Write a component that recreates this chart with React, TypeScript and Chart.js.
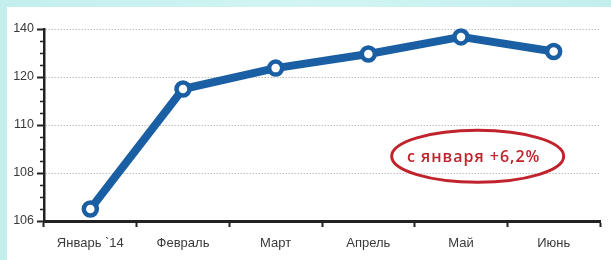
import React, { useEffect, useRef } from "react";
import { Chart, registerables } from "chart.js";

Chart.register(...registerables);

const months = ["Январь `14", "Февраль", "Март", "Апрель", "Май", "Июнь"];
const values = [106.5, 117.5, 123.7, 129.6, 136.7, 130.6];
const yTickLabels = [106, 108, 110, 120, 140];
const annotationText = "с января +6,2%";
const annotationX = 4.18; // category position
const annotationY = 108.7; // value position

const BLUE = "#1a5fa3";
const RED = "#c1232c";
const FONT = "'Liberation Sans', Arial, sans-serif";

// The value axis has evenly spaced, non-linear labels: map a value onto it.
function toAxis(v: number): number {
  for (let i = 0; i < yTickLabels.length - 1; i++) {
    const a = yTickLabels[i];
    const b = yTickLabels[i + 1];
    if (v <= b) return i + (v - a) / (b - a);
  }
  return yTickLabels.length - 1;
}

const minorTicksPlugin = {
  id: "minorTicks",
  afterDraw(chart: any) {
    const y = chart.scales.y;
    const ctx = chart.ctx;
    const x0 = chart.chartArea.left;
    ctx.save();
    ctx.strokeStyle = "#222";
    ctx.lineWidth = 1.5;
    for (let i = 0; i < yTickLabels.length - 1; i++) {
      for (let k = 1; k < 4; k++) {
        const py = Math.round(y.getPixelForValue(i + k / 4)) + 0.5;
        ctx.beginPath();
        ctx.moveTo(x0 - 4, py);
        ctx.lineTo(x0, py);
        ctx.stroke();
      }
    }
    ctx.restore();
  },
};

const annotationPlugin = {
  id: "ellipseNote",
  afterDatasetsDraw(chart: any) {
    const ctx = chart.ctx;
    const cx = chart.scales.x.getPixelForValue(annotationX);
    const cy = chart.scales.y.getPixelForValue(toAxis(annotationY));
    ctx.save();
    ctx.beginPath();
    ctx.ellipse(cx, cy, 86, 26, 0, 0, Math.PI * 2);
    ctx.strokeStyle = RED;
    ctx.lineWidth = 3;
    ctx.stroke();
    ctx.fillStyle = RED;
    ctx.font = `600 16px 'Open Sans', 'Liberation Sans', sans-serif`;
    (ctx as any).letterSpacing = "1px";
    ctx.textAlign = "center";
    ctx.textBaseline = "middle";
    ctx.fillText(annotationText, cx - 4, cy + 1);
    ctx.restore();
  },
};

export default function App() {
  const ref = useRef<HTMLCanvasElement | null>(null);

  useEffect(() => {
    if (!ref.current) return;
    const chart = new Chart(ref.current, {
      type: "line",
      data: {
        labels: months,
        datasets: [
          {
            data: values.map(toAxis),
            borderColor: BLUE,
            borderWidth: 8,
            pointRadius: 6.5,
            pointBorderWidth: 4.5,
            pointBackgroundColor: "#ffffff",
            pointBorderColor: BLUE,
            tension: 0,
            borderCapStyle: "round",
            borderJoinStyle: "round",
            clip: false,
          } as any,
        ],
      },
      options: {
        responsive: false,
        animation: false,
        layout: { padding: { top: 22, right: 6, left: 0, bottom: 0 } },
        plugins: { legend: { display: false }, tooltip: { enabled: false } },
        scales: {
          x: {
            type: "category",
            offset: true,
            grid: {
              offset: true,
              drawOnChartArea: false,
              drawTicks: true,
              tickLength: 6,
              tickColor: "#222",
              tickWidth: 2,
            },
            border: { color: "#222", width: 3 },
            ticks: {
              padding: 9,
              color: "#3a3a3a",
              font: { family: FONT, size: 13 },
              maxRotation: 0,
              autoSkip: false,
            },
            afterFit: (s: any) => {
              s.height = 39;
            },
          },
          y: {
            min: 0,
            max: yTickLabels.length - 1,
            ticks: {
              stepSize: 1,
              padding: 3,
              color: "#3a3a3a",
              font: { family: FONT, size: 12.5 },
              callback: (v: any) => String(yTickLabels[v] ?? ""),
            },
            grid: {
              color: (c: any) =>
                c.tick && c.tick.value === 0 ? "rgba(0,0,0,0)" : "rgba(170,170,170,0.75)",
              lineWidth: 1,
              tickLength: 7,
              tickColor: "#222",
              tickWidth: 2,
            },
            border: { color: "#222", width: 2.5, dash: [1.5, 1.5] },
            afterFit: (s: any) => {
              s.width = 37;
            },
          },
        },
      } as any,
      plugins: [minorTicksPlugin, annotationPlugin],
    });
    return () => chart.destroy();
  }, []);

  return (
    <div
      style={{
        position: "fixed",
        left: 0,
        top: 0,
        width: 611,
        height: 260,
        background: "linear-gradient(90deg, #c2efed, #d2f5f3 50%, #c2efed)",
      }}
    >
      <div
        style={{
          position: "absolute",
          left: 7,
          top: 7,
          width: 604,
          height: 253,
          background: "#ffffff",
        }}
      >
        <canvas ref={ref} width={604} height={253} style={{ display: "block" }} />
      </div>
    </div>
  );
}
